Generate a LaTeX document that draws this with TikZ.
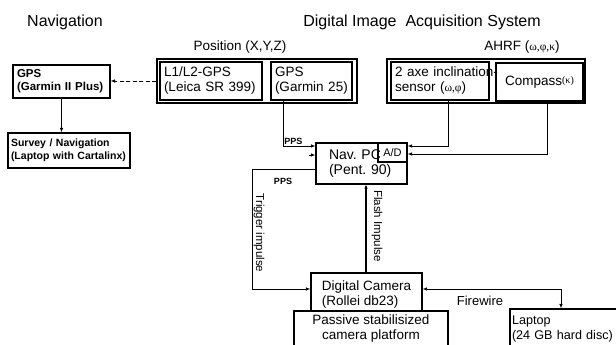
\documentclass[tikz,border=0pt]{standalone}
\usepackage{fontspec}
\setmainfont{Liberation Sans}
\newfontfamily\grk{Liberation Serif}
\usetikzlibrary{arrows.meta}

\def \boxFont {\fontsize{13.5}{15}\selectfont}
\def \tipSize {length=4.5pt,width=3.5pt}

\tikzset{
  box/.style={draw, line width=1.1pt, minimum height=38pt, inner xsep=4pt, inner ysep=0pt, align=left, font=\boxFont},
  frame/.style={draw, line width=1.1pt, minimum height=44pt, inner sep=0pt},
  title/.style={font=\fontsize{16}{18}\selectfont},
  link/.style={line width=0.8pt, -{Latex[\tipSize]}},
  tag/.style={font=\bfseries\fontsize{9}{10}\selectfont, inner sep=1pt},
  sidetext/.style={rotate=-90, font=\fontsize{11.5}{13}\selectfont, inner sep=0pt},
}

\begin{document}
\begin{tikzpicture}[x=1pt, y=-1pt]
  \useasboundingbox (0,0) rectangle (616,345);
  \clip (0,0) rectangle (616,345);

  \node[title] (navtitle) at (65,22) {Navigation};
  \node[title] (dastitle) at (422,22) {Digital Image\ \ Acquisition System};

  \node[font=\boxFont] (poslabel) at (240,47) {Position (X,Y,Z)};
  \node[frame, minimum width=200pt] (posframe) at (257,81) {};
  \node[box, text width=94pt] (l1l2) at (211,81) {L1/L2-GPS\\(Leica SR 399)};
  \node[box, text width=73pt] (gps25) at (311.5,81) {GPS\\(Garmin 25)};

  \node[font=\boxFont] (ahrflabel) at (522,47) {AHRF ({\grk\fontsize{11.5}{13}\selectfont ω,φ,κ})};
  \node[frame, minimum width=198pt] (ahrfframe) at (486,81) {};
  \node[box, text width=90pt] (incl) at (440,81) {\mbox{2 axe inclination-}\\sensor ({\grk\fontsize{11.5}{13}\selectfont ω,φ})};
  \node[box, text width=79pt, align=center] (compass) at (539.5,82) {Compass\raisebox{2pt}{\grk\fontsize{10}{11}\selectfont(κ)}};

  \node[box, font=\bfseries\fontsize{11.5}{13}\selectfont, minimum height=33pt, text width=89pt] (gpsnav) at (61.5,81.5) {GPS\\(Garmin II Plus)};
  \node[box, font=\bfseries\fontsize{10.5}{13}\selectfont, minimum height=35pt, text width=116pt, inner xsep=3pt] (survey) at (69,150.5) {\mbox{Survey / Navigation}\\\mbox{(Laptop with Cartalinx)}};

  \node[box, font=\fontsize{14}{15.5}\selectfont, minimum height=41pt, text width=65pt, inner xsep=13pt] (navpc) at (361.5,163.5) {Nav.\ PC\\(Pent.\ 90)};
  \node[draw, line width=1.1pt, minimum width=29pt, minimum height=19pt, inner sep=0pt, font=\fontsize{11}{12}\selectfont] (ad) at (392.5,152.5) {A/D};

  \node[box, minimum width=111pt, minimum height=44pt, inner xsep=0pt] (camera) at (366.5,295) {Digital Camera\\(Rollei db23)};
  \node[box, fill=white, minimum width=154pt, minimum height=36pt, align=center] (platform) at (371,329) {Passive stabilisized\\camera platform};
  \node[box, font=\fontsize{12.6}{15}\selectfont, text width=114pt, inner xsep=2pt, minimum height=39pt] (laptop) at (569,328.5) {Laptop\\\mbox{(24 GB hard disc)}};

  \draw[link, dash pattern=on 4pt off 2.5pt] (posframe.west) -- (posframe.west -| gpsnav.east);
  \draw[link] (gpsnav.south) -- (gpsnav.south |- survey.north);

  \draw[link] ([xshift=-28.5pt]gps25.south) |- ([yshift=17.5pt]navpc.west)
    node[tag, pos=0.66, anchor=south] (ppsin) {PPS};
  \draw[link] ([xshift=-6pt,yshift=8.5pt]navpc.west) -- ([yshift=8.5pt]navpc.west);
  \draw[link] ([yshift=-5.5pt]navpc.west) -- ++(-63,0) |- ([yshift=6pt]camera.west);
  \node[tag] (ppsout) at (283,181) {PPS};
  \node[sidetext] (trigger) at (259,233) {Trigger impulse};

  \draw[link] ([xshift=8pt]incl.south) |- ([yshift=17.5pt]navpc.east);
  \draw[link] ([xshift=7.5pt]compass.south) |- ([yshift=9.5pt]navpc.east);

  \draw[link, line width=1.6pt, -{Latex[length=4pt,width=3.5pt]}] ([xshift=-0.5pt]camera.north) -- ([xshift=4.5pt]navpc.south);
  \node[sidetext] (flash) at (377,226) {Flash Impulse};

  \draw[link, {Latex[\tipSize]}-{Latex[\tipSize]}] ([yshift=6pt]camera.east) -| ([xshift=-8pt]laptop.north);
  \node[font=\fontsize{13}{15}\selectfont] (firewire) at (480,301) {Firewire};
\end{tikzpicture}
\end{document}
